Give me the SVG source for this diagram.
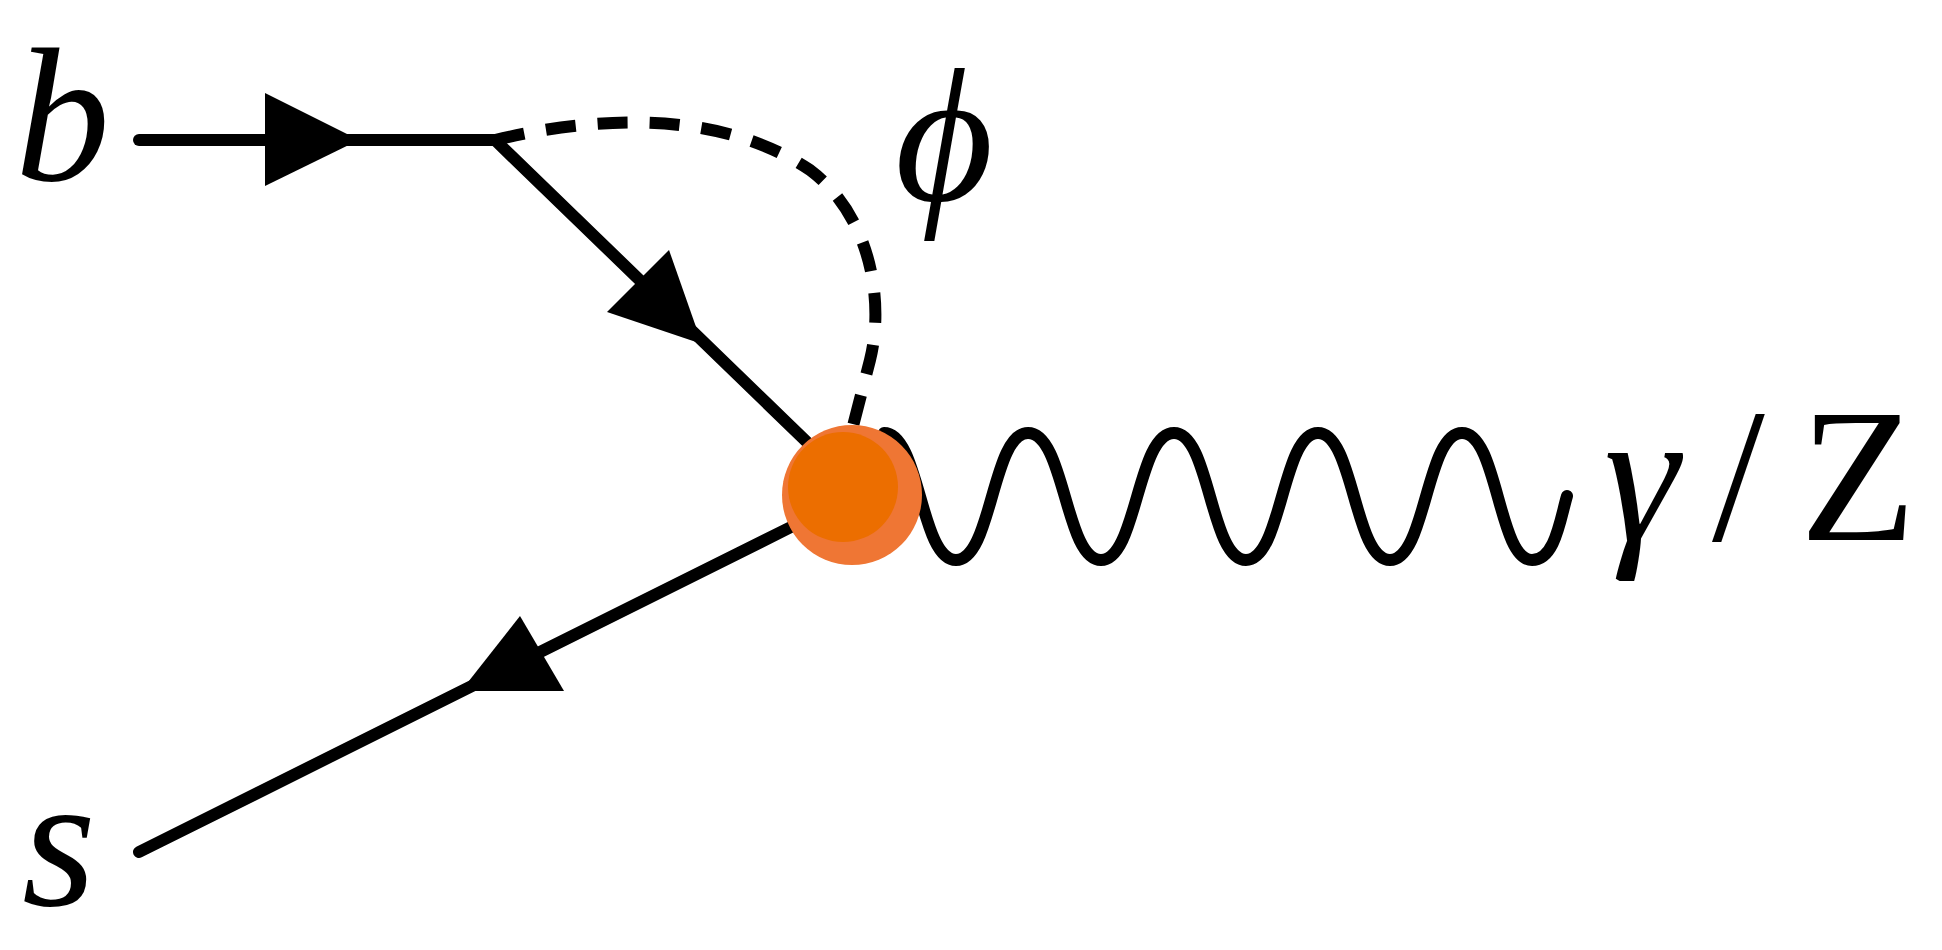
<svg xmlns="http://www.w3.org/2000/svg" width="1942" height="950" viewBox="0 0 1942 950">
<style>
.f{stroke:#000;stroke-width:12;fill:none;stroke-linecap:round}
.d{stroke:#000;stroke-width:12;fill:none;stroke-linecap:butt;stroke-dasharray:30,22}
.a{fill:#000}
.t{font-family:"Liberation Serif",serif;font-size:190px;fill:#000}
.i{font-style:italic}
</style>
<rect width="1942" height="950" fill="#fff"/>
<g id="connectors">
<line class="f" x1="139" y1="140" x2="495" y2="140"/>
<polygon class="a" points="265,93 359,140 265,186"/>
<line class="f" x1="495" y1="140" x2="811" y2="446"/>
<polygon class="a" points="669,250 702,344 607,312"/>
<line class="f" x1="139" y1="852" x2="793" y2="526"/>
<polygon class="a" points="520,616 461,691 564,691"/>
<path class="d" d="M495,140 C600,115 720,110 810,170 C870,215 885,300 870,360 L852,430"/>
<path class="f" stroke-width="11" d="M884,433 C920,433 920,560 956,560 C992,560 992,433 1028,433 C1065,433 1065,560 1101,560 C1137,560 1137,433 1174,433 C1210,433 1210,560 1246,560 C1282,560 1282,433 1318,433 C1354,433 1354,560 1390,560 C1426,560 1426,433 1462,433 C1498,433 1498,560 1532,560 C1555,560 1560,520 1567,496"/>
</g>
<g id="vertex">
<circle cx="852" cy="495" r="70" fill="#ef7634"/>
<circle cx="843" cy="487" r="55" fill="#ec6e00"/>
</g>
<g id="labels">
<text class="t i" x="15" y="180">b</text>
<text class="t i" x="895" y="200">ϕ</text>
<text class="t i" x="22" y="905">s</text>
<text class="t" y="540"><tspan class="i" x="1604">γ</tspan><tspan x="1712">/</tspan><tspan x="1800">Z</tspan></text>
</g>
</svg>
